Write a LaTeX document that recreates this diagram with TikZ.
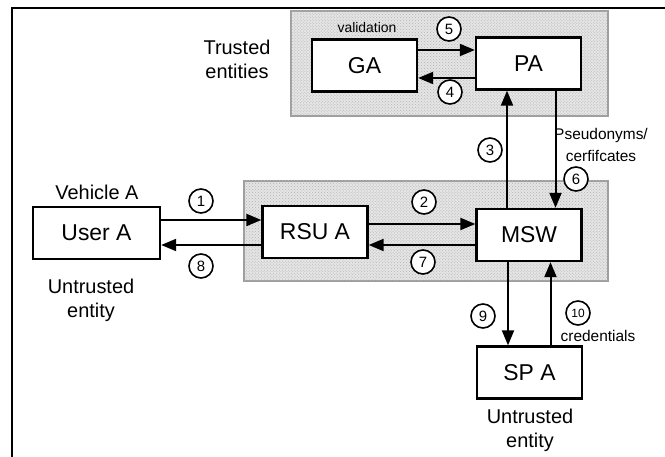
\documentclass[tikz,border=0pt]{standalone}
\usepackage{fontspec}
\setmainfont{Liberation Sans}
\usetikzlibrary{arrows.meta,positioning,calc,patterns}

\begin{document}
\begin{tikzpicture}[x=1bp, y=1bp,
    entity/.style={draw, line width=2.3bp, fill=white, minimum width=105bp, minimum height=52bp, inner sep=0pt, font=\fontsize{23}{26}\selectfont},
    step num/.style={draw, circle, line width=1.6bp, minimum size=24bp, inner sep=0pt, fill=white, font=\fontsize{15}{16}\selectfont},
    note/.style={align=center, font=\fontsize{20}{24}\selectfont},
    small note/.style={align=center, font=\fontsize{15.5}{23}\selectfont},
    arr/.style={-{Triangle[length=15bp, width=12bp]}, line width=2bp},
    zone/.style={draw=gray!75, line width=1.2bp, fill=gray!20}]
    \useasboundingbox (0,0) rectangle (665,457);

    % Outer frame (top and left edges only)
    \draw[line width=1.6bp] (12,0) -- (12,449) -- (665,449);

    % Shaded zones (speckled)
    \draw[zone] (291,341) rectangle (608,446);
    \fill[pattern=crosshatch dots, pattern color=gray!60] (291,341) rectangle (608,446);
    \draw[zone] (244,176) rectangle (608,276);
    \fill[pattern=crosshatch dots, pattern color=gray!60] (244,176) rectangle (608,276);

    % Entities
    \node[entity] (ga) at (364.5,391.5) {GA};
    \node[entity] (pa) at (528.5,393.5) {PA};
    \node[entity, minimum width=127bp] (user) at (96.5,224) {User A};
    \node[entity] (rsu) at (315,225) {RSU A};
    \node[entity] (msw) at (529,222) {MSW};
    \node[entity] (sp) at (529.5,84.5) {SP A};

    % Labels
    \node[note] (trusted) at (237,398) {Trusted\\entities};
    \node[note] (vehicle) at (97,265) {Vehicle A};
    \node[note] (untr1) at (91,157) {Untrusted\\entity};
    \node[note] (untr2) at (530,27) {Untrusted\\entity};
    \node[small note, font=\fontsize{14}{16}\selectfont] (valid) at (367,429) {validation};
    \node[small note] (pseudo) at (601,312) {Pseudonyms/\\cerfifcates};
    \node[small note] (cred) at (598,121) {credentials};

    % Message flows
    \draw[arr] ([yshift=13bp]user.east) -- ([yshift=13bp]user.east -| rsu.west);
    \draw[arr] ([yshift=-13bp]rsu.west) -- ([yshift=-13bp]rsu.west -| user.east);
    \draw[arr] ([yshift=11bp]msw.west -| rsu.east) -- ([yshift=11bp]msw.west);
    \draw[arr] ([yshift=-10bp]msw.west) -- ([yshift=-10bp]msw.west -| rsu.east);
    \draw[arr] ([xshift=-22bp]msw.north) -- ([xshift=-22bp]msw.north |- pa.south);
    \draw[arr] ([xshift=27bp]pa.south) -- ([xshift=27bp]pa.south |- msw.north);
    \draw[arr] ([yshift=15.5bp]ga.east) -- ([yshift=15.5bp]ga.east -| pa.west);
    \draw[arr] ([yshift=-14.5bp]pa.west) -- ([yshift=-14.5bp]pa.west -| ga.east);
    \draw[arr] ([xshift=-21bp]msw.south) -- ([xshift=-21bp]msw.south |- sp.north);
    \draw[arr] ([xshift=21bp]sp.north) -- ([xshift=21bp]sp.north |- msw.south);

    % Step numbers
    \node[step num] (n1) at (201,256) {1};
    \node[step num] (n2) at (424,255) {2};
    \node[step num] (n3) at (490,307) {3};
    \node[step num] (n4) at (450,365) {4};
    \node[step num] (n5) at (449,428) {5};
    \node[step num] (n6) at (576,278) {6};
    \node[step num] (n7) at (423,195) {7};
    \node[step num] (n8) at (201,191) {8};
    \node[step num] (n9) at (483,141) {9};
    \node[step num, font=\fontsize{12}{13}\selectfont] (n10) at (578,144) {10};
\end{tikzpicture}
\end{document}
